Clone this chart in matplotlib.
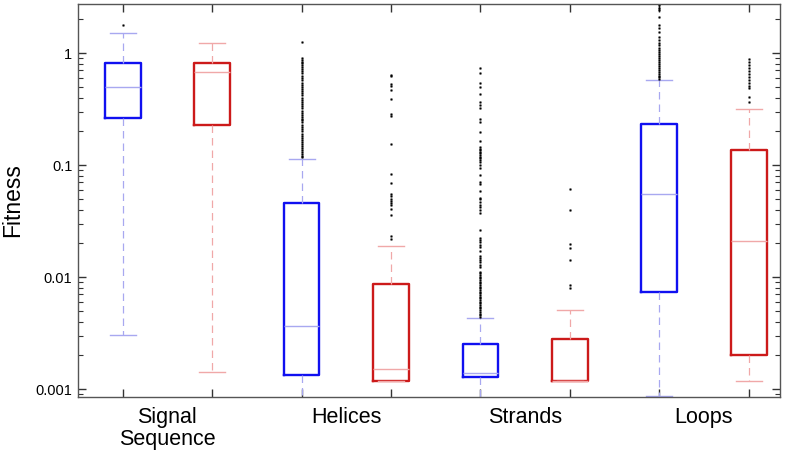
import matplotlib
matplotlib.use("Agg")
import matplotlib.pyplot as plt
from matplotlib.ticker import FixedLocator, NullFormatter, LogLocator

plt.rcParams['font.family'] = ['Liberation Sans', 'DejaVu Sans']

# group names and box order: (blue, red) per group
groups = ["Signal\nSequence", "Helices", "Strands", "Loops"]
series_colors = ["blue", "red"]

# box statistics, order: SS blue, SS red, Hel blue, Hel red, Str blue, Str red, Loop blue, Loop red
q1 = [0.263, 0.228, 0.00133, 0.00118, 0.00129, 0.00119, 0.0073, 0.0020]
med = [0.497, 0.677, 0.00365, 0.0015, 0.00139, 0.00119, 0.0548, 0.021]
q3 = [0.81, 0.81, 0.0458, 0.00866, 0.00254, 0.00281, 0.231, 0.137]
whis_lo = [0.00303, 0.00142, 0.0007, 0.00118, 0.0007, 0.00119, 0.00087, 0.00119]
whis_hi = [1.51, 1.23, 0.113, 0.019, 0.0043, 0.00507, 0.57, 0.316]

fliers_ss_blue = [1.78]
fliers_ss_red = []
fliers_hel_blue = [1.254, 0.90, 0.87, 0.84, 0.81, 0.78, 0.75, 0.72, 0.69, 0.66, 0.63,
                   0.60, 0.57, 0.54, 0.52, 0.50, 0.48, 0.46, 0.44, 0.42, 0.40, 0.38,
                   0.365, 0.35, 0.335, 0.32, 0.305, 0.29, 0.28, 0.27, 0.26, 0.25, 0.24,
                   0.23, 0.22, 0.21, 0.20, 0.19, 0.183, 0.176, 0.169, 0.162, 0.155,
                   0.149, 0.143, 0.137, 0.131, 0.126, 0.121, 0.117]
fliers_hel_red = [0.636, 0.623, 0.529, 0.507, 0.467, 0.388, 0.285, 0.274, 0.154, 0.0831,
                  0.0691, 0.0551, 0.0529, 0.0497, 0.0477, 0.0458, 0.0440, 0.0405, 0.0358,
                  0.0232, 0.0218]
fliers_str_blue = [0.735, 0.663, 0.54, 0.50, 0.43, 0.365, 0.343, 0.323, 0.258, 0.242,
                   0.197, 0.164, 0.145, 0.14, 0.136, 0.132, 0.128, 0.123, 0.119, 0.1155,
                   0.111, 0.106, 0.1, 0.094, 0.0814, 0.0705, 0.0677, 0.0586, 0.0507,
                   0.0497, 0.0467, 0.044, 0.0422, 0.0397, 0.0373, 0.0263, 0.0223, 0.0214,
                   0.0205, 0.0193, 0.0185, 0.0171, 0.0154, 0.0148, 0.0142, 0.0136,
                   0.0128, 0.0123, 0.0111, 0.0108, 0.0104, 0.0101, 0.0098, 0.0094,
                   0.0091, 0.00884, 0.0085, 0.0082, 0.008, 0.00766, 0.0074, 0.0072,
                   0.0069, 0.0067, 0.00649, 0.00623, 0.006, 0.00586, 0.00562, 0.0054,
                   0.00528, 0.00507, 0.0049, 0.0047, 0.00458, 0.0044]
fliers_str_red = [0.0610, 0.0397, 0.0197, 0.0182, 0.0142, 0.0085, 0.0080]
fliers_loop_blue = [2.68, 2.52, 2.42, 2.10, 1.78, 1.67, 1.54, 1.39, 1.31, 1.23, 1.18,
                    1.11, 1.07, 1.02, 0.98, 0.94, 0.90, 0.87, 0.83, 0.80, 0.77, 0.74,
                    0.71, 0.68, 0.655, 0.63, 0.605, 0.585]
fliers_loop_red = [0.884, 0.831, 0.781, 0.735, 0.691, 0.650, 0.610, 0.574, 0.540,
                   0.508, 0.487, 0.405, 0.365]

fliers = [fliers_ss_blue, fliers_ss_red, fliers_hel_blue, fliers_hel_red,
          fliers_str_blue, fliers_str_red, fliers_loop_blue, fliers_loop_red]

ytick_vals = [0.001, 0.01, 0.1, 1]
ytick_labels = ["0.001", "0.01", "0.1", "1"]

edge = {"blue": "#1010f0", "red": "#cc1a1a"}
light = {"blue": "#a8a8f0", "red": "#f0a8a8"}

fig = plt.figure(figsize=(8, 4.58), dpi=100)
ax = fig.add_axes([0.0975, 0.1332, 0.8775, 0.8581])

positions = list(range(1, len(q1) + 1))
for i, pos in enumerate(positions):
    c = series_colors[i % 2]
    st = [{"med": med[i], "q1": q1[i], "q3": q3[i],
           "whislo": whis_lo[i], "whishi": whis_hi[i], "fliers": fliers[i]}]
    ax.bxp(st, positions=[pos], widths=0.4, capwidths=0.29, showfliers=True,
           boxprops=dict(color=edge[c], linewidth=1.7),
           medianprops=dict(color=light[c], linewidth=1.0),
           whiskerprops=dict(color=light[c], linewidth=0.9, linestyle=(0, (6, 4))),
           capprops=dict(color=light[c], linewidth=1.0),
           flierprops=dict(marker='s', markersize=1.1, markerfacecolor='black',
                           markeredgecolor='black', markeredgewidth=0.3,
                           linestyle='none'))

ax.set_yscale('log')
ax.set_ylim(0.00085, 2.74)
ax.set_xlim(0.5, 8.35)

ax.set_yticks(ytick_vals)
ax.set_yticklabels(ytick_labels, fontsize=10.5)
ax.yaxis.set_minor_locator(LogLocator(base=10, subs=range(2, 10)))
ax.yaxis.set_minor_formatter(NullFormatter())

ax.xaxis.set_major_locator(FixedLocator(positions))
ax.set_xticklabels([""] * len(positions))
ax.xaxis.set_minor_locator(FixedLocator([1.5, 3.5, 5.5, 7.5]))
ax.set_xticklabels(groups, minor=True, fontsize=15.5, linespacing=1.05)

ax.tick_params(axis='x', which='major', direction='in', length=6, width=1,
               top=True, color='#333333')
ax.tick_params(axis='x', which='minor', length=0, pad=7)
ax.tick_params(axis='y', which='major', direction='in', length=6, width=1,
               right=True, pad=4, color='#333333')
ax.tick_params(axis='y', which='minor', direction='in', length=3.5, width=0.8,
               right=True, color='#333333')

for sp in ax.spines.values():
    sp.set_color('#555555')
    sp.set_linewidth(1.0)

ax.set_ylabel("Fitness", fontsize=16.5, labelpad=8)

fig.savefig("out.png", dpi=100)
